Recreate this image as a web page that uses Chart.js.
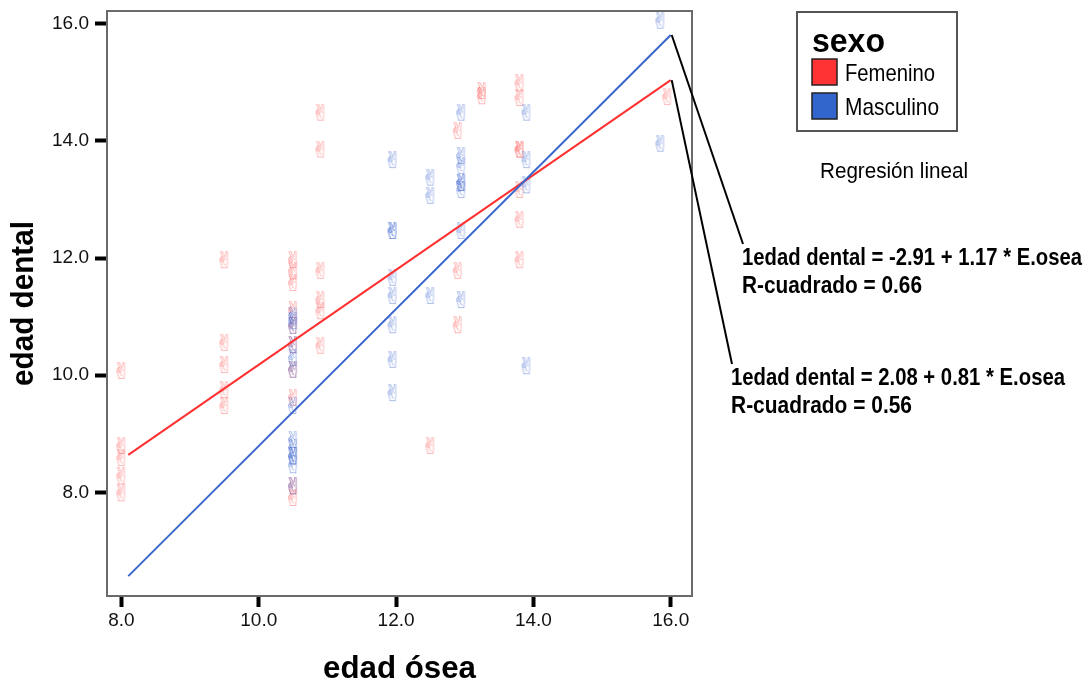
<!DOCTYPE html>
<html>
<head>
<meta charset="utf-8">
<script src="https://cdn.jsdelivr.net/npm/chart.js@4"></script>
<style>
  body { margin: 0; background: #fff; }
  #wrap { width: 1089px; height: 684px; position: relative; }
</style>
</head>
<body>
<div id="wrap"><canvas id="scatterChart"></canvas></div>
<script>
// edad ósea (x) / edad dental (y)
var femX = [8.0, 8.0, 8.0, 8.0, 8.0,
            9.5, 9.5, 9.5, 9.5, 9.5,
            10.5, 10.5, 10.5, 10.5, 10.5, 10.5, 10.5, 10.5, 10.5, 10.5,
            10.9, 10.9, 10.9, 10.9, 10.9, 10.9,
            12.5,
            12.9, 12.9, 12.9,
            13.25, 13.25,
            13.8, 13.8, 13.8, 13.8, 13.8, 13.8, 13.8,
            15.95];
var femY = [10.04, 8.76, 8.55, 8.24, 7.95,
            11.93, 10.52, 10.14, 9.71, 9.44,
            11.93, 11.74, 11.54, 11.08, 10.81, 10.48, 10.06, 9.58, 8.07, 7.87,
            14.45, 13.82, 11.75, 11.25, 11.06, 10.47,
            8.76,
            14.14, 11.75, 10.82,
            14.82, 14.73,
            14.95, 14.70, 13.82, 13.82, 13.13, 12.62, 11.93,
            14.72];

var masX = [10.5, 10.5, 10.5, 10.5, 10.5, 10.5, 10.5, 10.5, 10.5, 10.5, 10.5, 10.5, 10.5,
            11.95, 11.95, 11.95, 11.95, 11.95, 11.95, 11.95, 11.95,
            12.5, 12.5, 12.5,
            12.95, 12.95, 12.95, 12.95, 12.95, 12.95, 12.95, 12.95,
            13.9, 13.9, 13.9, 13.9,
            15.85, 15.85];
var masY = [10.98, 10.89, 10.81, 10.48, 10.26, 10.06, 9.44, 8.86, 8.72, 8.58, 8.58, 8.43, 8.07,
            13.64, 12.43, 12.43, 11.63, 11.32, 10.82, 10.23, 9.66,
            13.34, 13.03, 11.32,
            14.45, 13.71, 13.54, 13.25, 13.25, 13.13, 12.43, 11.25,
            14.45, 13.64, 13.21, 10.12,
            16.02, 13.92];

// regression line ends
var fitX = [8.1, 16.0];
var femFitY = [8.64, 15.04];
var masFitY = [6.57, 15.81];

var xTicks = [8, 10, 12, 14, 16];
var yTicks = [8, 10, 12, 14, 16];
var groups = ['Femenino', 'Masculino'];
var groupColors = ['#ff3333', '#3366cc'];
var fitLabels = [
    ['1edad dental = 2.08 + 0.81 * E.osea', 'R-cuadrado = 0.56'],
    ['1edad dental = -2.91 + 1.17 * E.osea', 'R-cuadrado = 0.66']
];

function toPoints(xs, ys) {
    return xs.map(function(x, i) { return {x: x, y: ys[i]}; });
}

function makeMarker(color) {
    var c = document.createElement('canvas');
    c.width = 16;
    c.height = 22;
    var g = c.getContext('2d');
    g.fillStyle = color;
    g.font = '24px "DejaVu Sans"';
    g.textAlign = 'center';
    g.textBaseline = 'middle';
    g.fillText('\u270C', 8, 11);
    return c;
}

// narrow text like the SPSS output: squeeze to a measured width
function fitText(ctx, text, x, y, font, width, align) {
    ctx.save();
    ctx.font = font;
    ctx.textBaseline = 'alphabetic';
    ctx.textAlign = 'left';
    var w = ctx.measureText(text).width;
    var s = width / w;
    var x0 = align === 'center' ? x - width / 2 : x;
    ctx.translate(x0, y);
    ctx.scale(s, 1);
    ctx.fillText(text, 0, 0);
    ctx.restore();
}

var FONT = '"Liberation Sans", Arial, sans-serif';

var decorations = {
    id: 'decorations',
    afterDraw: function(chart) {
        var ctx = chart.ctx;
        var a = chart.chartArea;
        var xs = chart.scales.x;
        var ys = chart.scales.y;

        // plot frame
        ctx.save();
        ctx.strokeStyle = '#6a6a6a';
        ctx.lineWidth = 2;
        ctx.strokeRect(a.left, a.top, a.right - a.left, a.bottom - a.top);
        ctx.restore();

        ctx.fillStyle = '#000';
        // axis titles
        ctx.save();
        ctx.translate(33, (a.top + a.bottom) / 2);
        ctx.rotate(-Math.PI / 2);
        fitText(ctx, 'edad dental', 0, 0, 'bold 31px ' + FONT, 165, 'center');
        ctx.restore();
        fitText(ctx, 'edad ósea', (a.left + a.right) / 2, 678, 'bold 31px ' + FONT, 153, 'center');

        // legend box
        ctx.save();
        ctx.strokeStyle = '#555';
        ctx.lineWidth = 2;
        ctx.strokeRect(797, 12, 160, 119);
        fitText(ctx, 'sexo', 812, 52, 'bold 33px ' + FONT, 73);
        groups.forEach(function(name, i) {
            var top = 59 + i * 34;
            ctx.fillStyle = groupColors[i];
            ctx.fillRect(812, top, 25, 26);
            ctx.strokeStyle = '#222';
            ctx.lineWidth = 1.5;
            ctx.strokeRect(812, top, 25, 26);
            ctx.fillStyle = '#000';
            fitText(ctx, name, 845, top + 22, '24px ' + FONT, i === 0 ? 90 : 94);
        });
        fitText(ctx, 'Regresión lineal', 820, 178, '22px ' + FONT, 148);
        ctx.restore();

        // regression labels with leader lines
        var ends = [
            {y: femFitY[1], tx: 731, ty: 385, w: [334, 181], lx: 732, ly: 364},
            {y: masFitY[1], tx: 742, ty: 265, w: [340, 180], lx: 743, ly: 244}
        ];
        ctx.save();
        ctx.strokeStyle = '#000';
        ctx.lineWidth = 2;
        ends.forEach(function(e, i) {
            var px = xs.getPixelForValue(fitX[1]) + 1;
            var py = ys.getPixelForValue(e.y);
            ctx.beginPath();
            ctx.moveTo(px, py);
            ctx.lineTo(e.lx, e.ly);
            ctx.stroke();
            ctx.fillStyle = '#000';
            fitText(ctx, fitLabels[i][0], e.tx, e.ty, 'bold 23px ' + FONT, e.w[0]);
            fitText(ctx, fitLabels[i][1], e.tx, e.ty + 28, 'bold 23px ' + FONT, e.w[1]);
        });
        ctx.restore();
    }
};

var ctx = document.getElementById('scatterChart').getContext('2d');
var scatterChart = new Chart(ctx, {
    type: 'scatter',
    data: {
        datasets: [{
            type: 'line',
            label: 'Masculino ajuste',
            data: toPoints(fitX, masFitY),
            borderColor: '#3a66cc',
            borderWidth: 2,
            pointRadius: 0,
            showLine: true,
            fill: false
        }, {
            type: 'line',
            label: 'Femenino ajuste',
            data: toPoints(fitX, femFitY),
            borderColor: '#ff3030',
            borderWidth: 2,
            pointRadius: 0,
            showLine: true,
            fill: false
        }, {
            label: 'Masculino',
            data: toPoints(masX, masY),
            pointStyle: makeMarker('rgba(60, 100, 205, 0.55)'),
            pointRadius: 8
        }, {
            label: 'Femenino',
            data: toPoints(femX, femY),
            pointStyle: makeMarker('rgba(255, 70, 70, 0.5)'),
            pointRadius: 8
        }]
    },
    options: {
        responsive: true,
        maintainAspectRatio: false,
        animation: false,
        layout: { padding: { left: 0, top: 11, right: 397, bottom: 0 } },
        plugins: {
            legend: { display: false },
            tooltip: { enabled: false }
        },
        scales: {
            x: {
                type: 'linear',
                min: 7.79,
                max: 16.31,
                afterFit: function(scale) {
                    scale.height = 88;
                    scale.paddingLeft = 0;
                    scale.paddingRight = 0;
                },
                afterBuildTicks: function(scale) {
                    scale.ticks = xTicks.map(function(v) { return {value: v}; });
                },
                grid: { drawOnChartArea: false, tickLength: 11, tickWidth: 4, tickColor: '#000' },
                border: { display: false },
                ticks: {
                    padding: 2,
                    color: '#111',
                    font: { family: FONT, size: 19 },
                    callback: function(v) { return Number(v).toFixed(1); }
                }
            },
            y: {
                type: 'linear',
                min: 6.23,
                max: 16.22,
                afterFit: function(scale) {
                    scale.width = 107;
                    scale.paddingTop = 0;
                    scale.paddingBottom = 0;
                },
                afterBuildTicks: function(scale) {
                    scale.ticks = yTicks.map(function(v) { return {value: v}; });
                },
                grid: { drawOnChartArea: false, tickLength: 12, tickWidth: 4, tickColor: '#000' },
                border: { display: false },
                ticks: {
                    padding: 6,
                    color: '#111',
                    font: { family: FONT, size: 19 },
                    callback: function(v) { return Number(v).toFixed(1); }
                }
            }
        }
    },
    plugins: [decorations]
});
</script>
</body>
</html>
